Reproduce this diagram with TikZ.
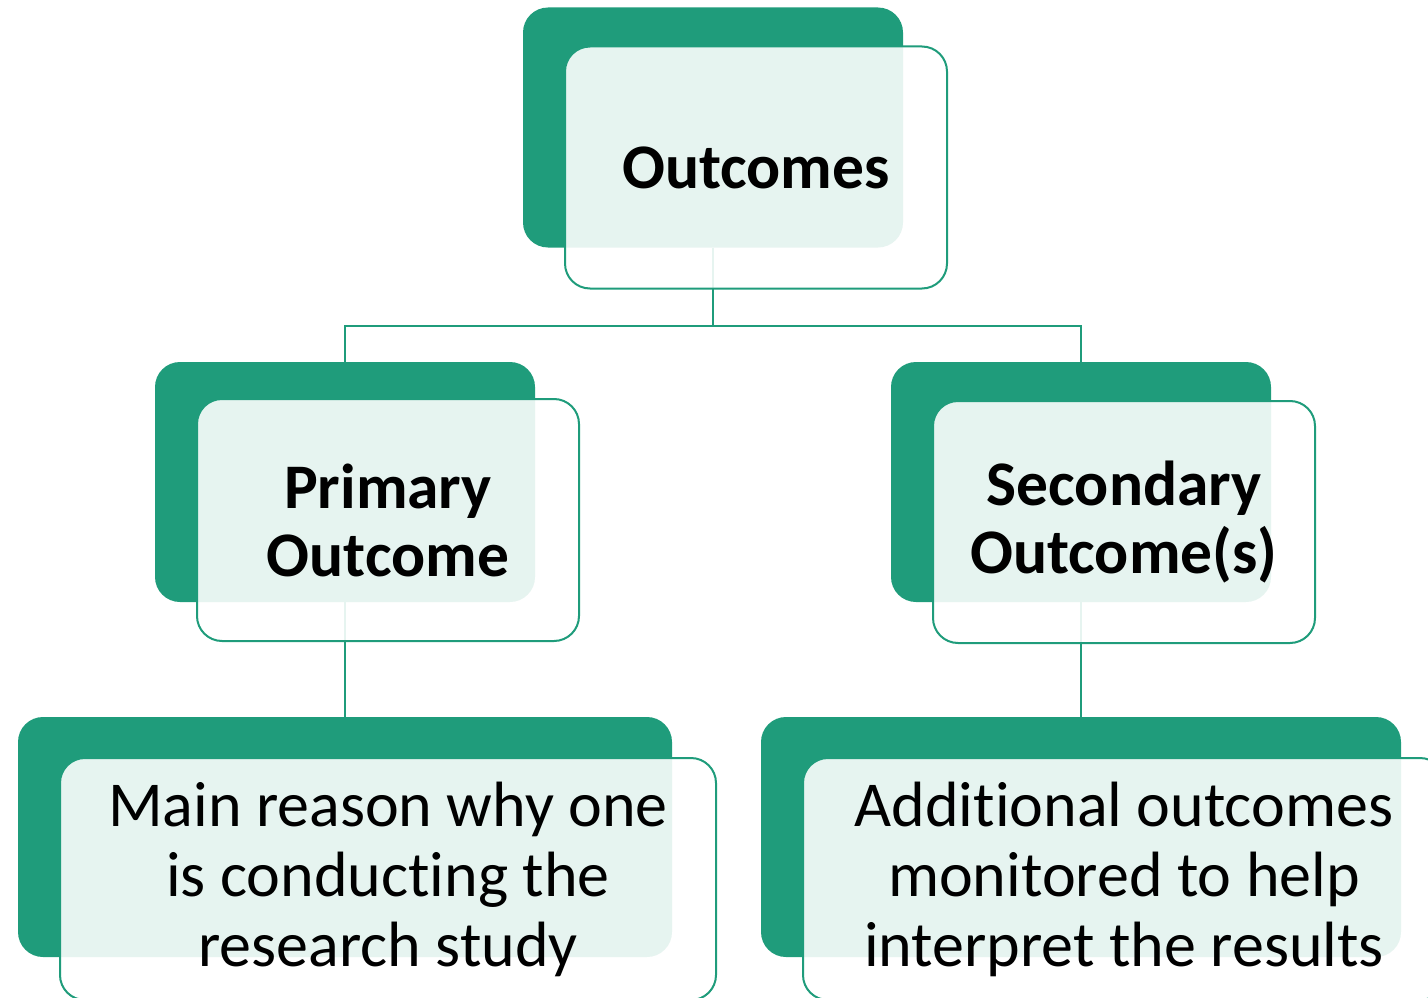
\documentclass[tikz,border=0pt]{standalone}
\usepackage{fontspec}
\setmainfont{Carlito}[Ligatures=NoCommon]
\usetikzlibrary{positioning}

\definecolor{outgreen}{HTML}{1F9C7B}

\tikzset{
    backbox/.style  = {fill=outgreen, rounded corners=25pt, minimum height=240pt, inner sep=0pt},
    frontbox/.style = {draw=outgreen, line width=2pt, fill=white, fill opacity=0.89, text opacity=1,
                       rounded corners=25pt, minimum height=242pt, inner sep=0pt, align=center},
    headtxt/.style  = {font={\fontsize{63.5}{68}\selectfont\bfseries}},
    bodytxt/.style  = {font={\fontsize{64}{70}\selectfont}},
    link/.style     = {draw=outgreen, line width=2pt}
}

\begin{document}
\begin{tikzpicture}[x=1pt, y=-1pt]
    \useasboundingbox (0,0) rectangle (1428,998);
    \clip (0,0) rectangle (1428,998);

    % dark back plates
    \foreach \n/\x/\y/\w in {1/713/127.5/380, 2/345/482/380, 3/1081/482/380, 4/345/837/654, 5/1081/837/640}{
        \node[backbox, minimum width=\w pt] (B\n) at (\x,\y) {};
    }

    % tree lines
    \draw[link] (B1.south) -- ++(0,78) -| (B2.north);
    \draw[link] (B1.south) -- ++(0,78) -| (B3.north);
    \draw[link] (B2.south) -- (B4.north);
    \draw[link] (B3.south) -- (B5.north);

    % light front cards
    \node[frontbox, headtxt, minimum width=382pt] (F1) at ([shift={(43,40)}]B1.center) {Outcomes};
    \node[frontbox, headtxt, minimum width=382pt] (F2) at ([shift={(43,38)}]B2.center) {Primary\\Outcome};
    \node[frontbox, headtxt, minimum width=382pt] (F3) at ([shift={(43,40)}]B3.center) {Secondary\\Outcome(s)};
    \node[frontbox, bodytxt, minimum width=656pt] (F4) at ([shift={(43,42)}]B4.center)
        {Main reason why one\\is conducting the\\research study};
    \node[frontbox, bodytxt, minimum width=642pt] (F5) at ([shift={(43,42)}]B5.center)
        {Additional outcomes\\monitored to help\\interpret the results};
\end{tikzpicture}
\end{document}
